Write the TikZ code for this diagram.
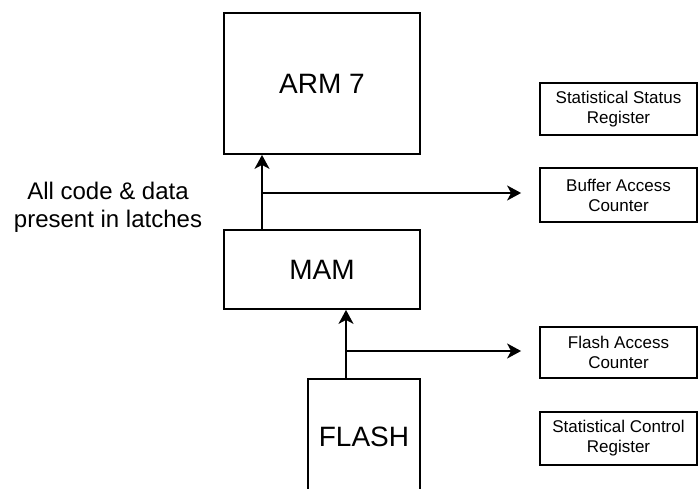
\documentclass[tikz,border=0pt]{standalone}
\usepackage{fontspec}
\setmainfont{Liberation Sans}
\usetikzlibrary{positioning,arrows.meta}

\begin{document}
\begin{tikzpicture}[x=1pt, y=-1pt, line width=1.8pt,
    bigbox/.style={draw, inner sep=0pt, font=\fontsize{28}{32}\selectfont},
    regbox/.style={draw, inner sep=0pt, minimum width=157pt, align=center, font=\fontsize{17}{20}\selectfont},
    feed/.style={-{Stealth[length=14pt, width=15pt, inset=4pt]}}]
      \useasboundingbox (0,0) rectangle (698,489);
      \clip (0,0) rectangle (698,489);
      \node [bigbox, minimum width=196pt, minimum height=141pt] (arm) at (322,83.5) {ARM 7};
      \node [bigbox, minimum width=196pt, minimum height=79pt] (mam) at (322,269.5) {MAM};
      \node [bigbox, minimum width=112pt, minimum height=116pt] (flash) at (364,437) {FLASH};
      \node [regbox, minimum height=52pt] (ssr) at (618.5,109) {Statistical Status\\Register};
      \node [regbox, minimum height=54pt] (bac) at (618.5,195) {Buffer Access\\Counter};
      \node [regbox, minimum height=51pt] (fac) at (618.5,352.5) {Flash Access\\Counter};
      \node [regbox, minimum height=53pt] (scr) at (618.5,438.5) {Statistical Control\\Register};
      \node [align=center, font=\fontsize{24}{28}\selectfont] (latch) at (108,207) {All code \& data\\present in latches};

      \coordinate (armtap) at (262,193);
      \coordinate (flashtap) at (346,351);
      \draw[feed] (armtap |- mam.north) -- (armtap |- arm.south);
      \draw[feed, shorten >=18pt] (armtap) -- (armtap -| bac.west);
      \draw[feed] (flashtap |- flash.north) -- (flashtap |- mam.south);
      \draw[feed, shorten >=18pt] (flashtap) -- (flashtap -| fac.west);
    \end{tikzpicture}
\end{document}
